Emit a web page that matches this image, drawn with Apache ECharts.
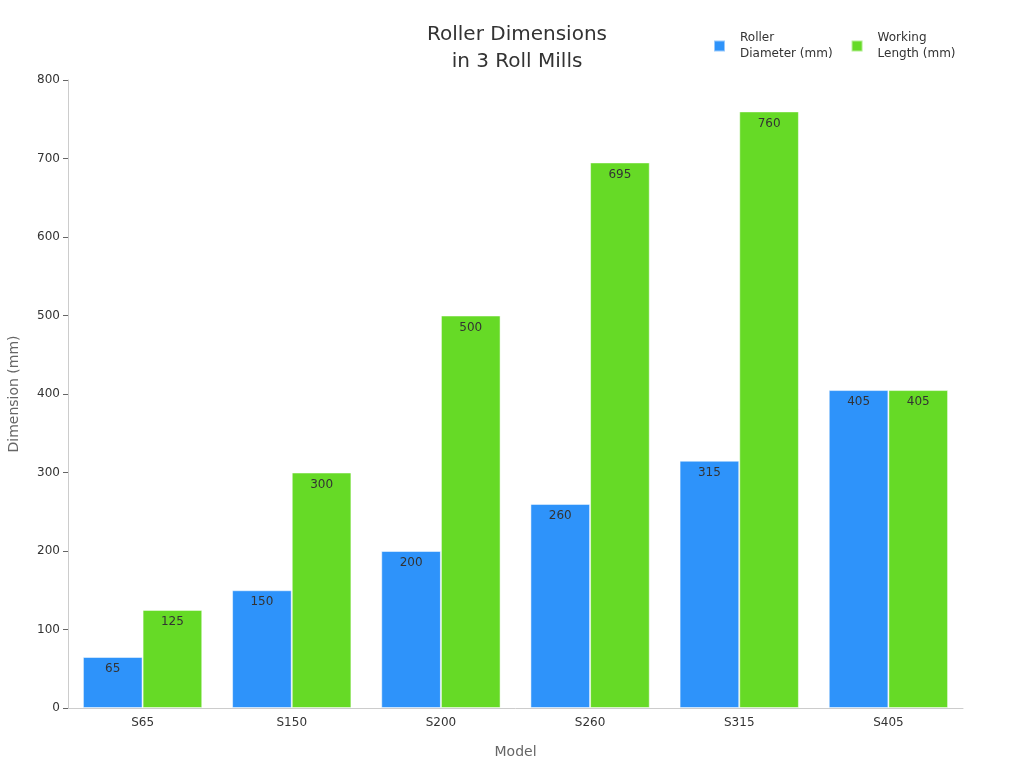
<!DOCTYPE html>
<html><head><meta charset="utf-8">
<script src="https://cdn.jsdelivr.net/npm/echarts@6/dist/echarts.min.js"></script>
<style>html,body{margin:0;padding:0;background:#fff}#c{width:1024px;height:768px}</style>
</head><body><div id="c"></div>
<script>
const categories = ['S65','S150','S200','S260','S315','S405'];
const rollerDiameter = [65,150,200,260,315,405];
const workingLength = [125,300,500,695,760,405];
const seriesNames = ['Roller\nDiameter (mm)','Working\nLength (mm)'];
const yTicks = {min:0,max:800,interval:100};

const chart = echarts.init(document.getElementById('c'));
const font = 'DejaVu Sans';
const labelCfg = {show:true,position:'insideTop',distance:6,color:'#333',fontSize:12,fontFamily:font};
chart.setOption({
  animation:false,
  textStyle:{fontFamily:font},
  title:{text:'Roller Dimensions\nin 3 Roll Mills',left:512,textAlign:'center',top:16,
    textStyle:{fontSize:20,fontWeight:'normal',color:'#333',fontFamily:font,lineHeight:27}},
  legend:{top:25,left:708,itemWidth:11,itemHeight:11,itemGap:18,icon:'rect',
    textStyle:{fontSize:12,color:'#333',fontFamily:font,lineHeight:16,padding:[0,0,0,10]}},
  grid:{left:68,right:61,top:80,bottom:60,containLabel:false,outerBoundsMode:'none'},
  xAxis:{type:'category',data:categories,name:'Model',nameLocation:'middle',nameGap:37,
    nameTextStyle:{fontSize:14,color:'#666',fontFamily:font},
    axisLine:{lineStyle:{color:'#ccc'}},axisTick:{alignWithLabel:true,length:5,lineStyle:{color:'#666'}},
    axisLabel:{color:'#333',fontSize:12,margin:9,fontFamily:font}},
  yAxis:{type:'value',min:yTicks.min,max:yTicks.max,interval:yTicks.interval,name:'Dimension (mm)',
    nameLocation:'middle',nameGap:47,nameTextStyle:{fontSize:14,color:'#666',fontFamily:font},
    axisLine:{show:true,lineStyle:{color:'#ccc'}},axisTick:{show:true,length:5,lineStyle:{color:'#666'}},
    splitLine:{show:false},axisLabel:{color:'#333',fontSize:12,margin:8,fontFamily:font}},
  series:[
    {name:seriesNames[0],type:'bar',data:rollerDiameter,barGap:'0%',barCategoryGap:'20%',
      itemStyle:{color:'#2E93FA',borderColor:'rgba(255,255,255,0.5)',borderWidth:1},label:labelCfg},
    {name:seriesNames[1],type:'bar',data:workingLength,
      itemStyle:{color:'#66DA26',borderColor:'rgba(255,255,255,0.5)',borderWidth:1},label:labelCfg}
  ]
});
</script></body></html>
